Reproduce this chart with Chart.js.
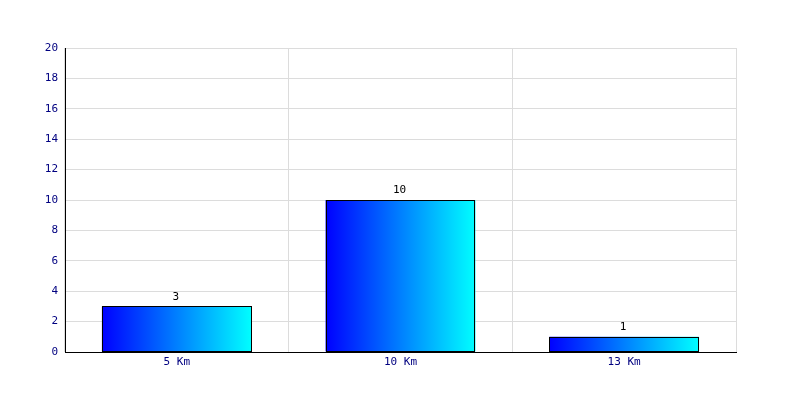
<!DOCTYPE html>
<html><head><meta charset="utf-8">
<script src="https://cdn.jsdelivr.net/npm/chart.js@4"></script>
<style>html,body{margin:0;padding:0;background:#fff}#w{width:800px;height:400px}</style>
</head><body><div id="w"><canvas id="c"></canvas></div>
<script>
const categories = ['5 Km', '10 Km', '13 Km'];
const values = [3, 10, 1];
const yTicks = [0, 2, 4, 6, 8, 10, 12, 14, 16, 18, 20];

const FONT = "'DejaVu Sans Mono', monospace";
const BAR_FRAC = 0.67;

function barFill(ctx) {
  const chart = ctx.chart;
  const area = chart.chartArea;
  const xs = chart.scales.x;
  if (!area || !xs || ctx.dataIndex === undefined) return '#0000ff';
  const cx = xs.getPixelForValue(ctx.dataIndex);
  const w = (area.right - area.left) / categories.length * BAR_FRAC;
  const g = chart.ctx.createLinearGradient(cx - w / 2, 0, cx + w / 2, 0);
  g.addColorStop(0, '#0000ff');
  g.addColorStop(1, '#00ffff');
  return g;
}

const barOutlineAndLabels = {
  id: 'barOutlineAndLabels',
  afterDatasetsDraw(chart) {
    const c = chart.ctx;
    const meta = chart.getDatasetMeta(0);
    c.save();
    c.strokeStyle = '#000';
    c.lineWidth = 1;
    meta.data.forEach((el) => {
      const l = Math.round(el.x - el.width / 2) + 0.5;
      const r = Math.round(el.x + el.width / 2) - 0.5;
      const t = Math.round(el.y) + 0.5;
      const b = Math.round(el.base) - 0.5;
      c.strokeRect(l, t, r - l, b - t);
    });
    c.font = '11px ' + FONT;
    c.fillStyle = '#000';
    c.textAlign = 'center';
    c.textBaseline = 'bottom';
    meta.data.forEach((el, i) => {
      c.fillText(String(values[i]), el.x - 1, el.y - 4);
    });
    c.restore();
  }
};

Chart.defaults.font.family = FONT;
Chart.defaults.font.size = 11;

new Chart(document.getElementById('c'), {
  type: 'bar',
  data: {
    labels: categories,
    datasets: [{
      data: values,
      backgroundColor: barFill,
      borderWidth: 0,
      categoryPercentage: 1,
      barPercentage: BAR_FRAC
    }]
  },
  options: {
    responsive: true,
    maintainAspectRatio: false,
    animation: false,
    devicePixelRatio: 1,
    layout: { padding: { left: 0, right: 64, top: 48, bottom: 0 } },
    plugins: { legend: { display: false }, tooltip: { enabled: false } },
    scales: {
      x: {
        offset: true,
        grid: { offset: true, color: '#dcdcdc', drawTicks: false },
        border: { color: '#000', width: 1 },
        ticks: { color: '#000080', padding: 4, font: { size: 11, family: FONT } },
        afterFit(s) { s.height = 48; }
      },
      y: {
        min: 0, max: 20,
        afterBuildTicks(s) { s.ticks = yTicks.map(v => ({ value: v })); },
        grid: { color: '#dcdcdc', drawTicks: false },
        border: { color: '#000', width: 1 },
        ticks: { color: '#000080', padding: 7, font: { size: 11, family: FONT } },
        afterFit(s) { s.width = 65; }
      }
    }
  },
  plugins: [barOutlineAndLabels]
});
</script>
</body></html>
